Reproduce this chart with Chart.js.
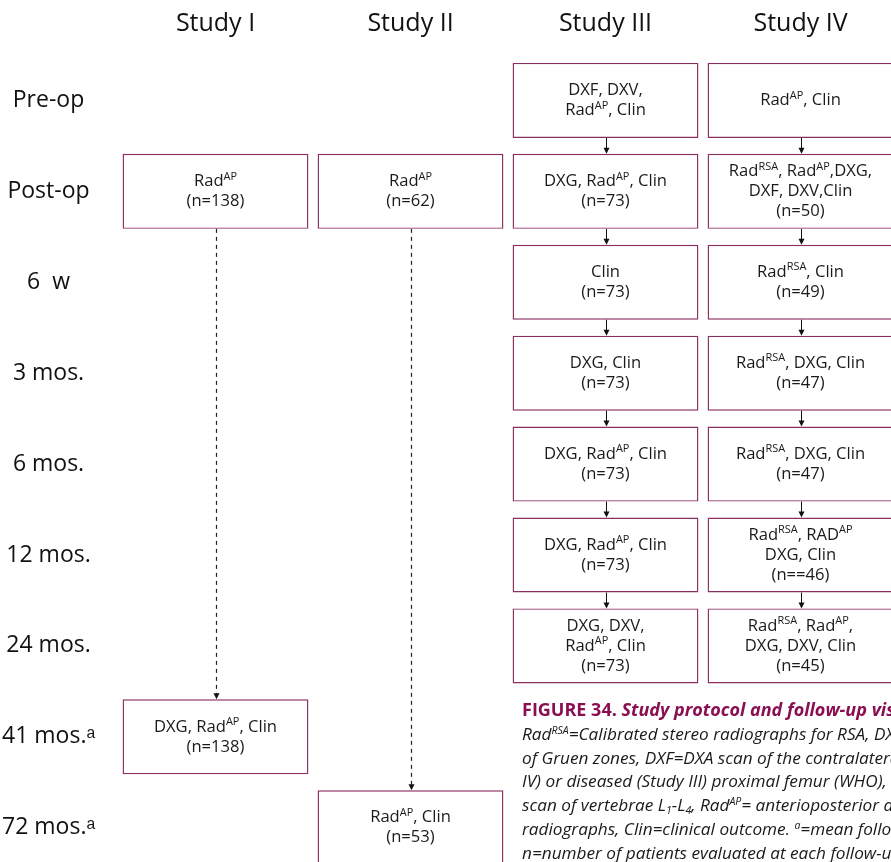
<!DOCTYPE html>
<html>
<head>
<meta charset="utf-8">
<script src="https://cdn.jsdelivr.net/npm/chart.js@4/dist/chart.umd.min.js"></script>
<style>
  html, body { margin: 0; padding: 0; background: #fff; overflow: hidden; }
  #wrap { position: relative; width: 891px; height: 862px; overflow: hidden; }
  #flow { position: absolute; left: 0; top: 0; }
  #caption {
    position: absolute; left: 522px; top: 698px; white-space: nowrap;
    font-family: "Open Sans", sans-serif; font-size: 17.2px; line-height: 23.8px; color: #1a1a1a;
    font-style: italic;
  }
  #caption .head { font-style: normal; font-weight: 700; color: #8a0f52; font-size: 18px; }
  #caption .head i { font-style: italic; }
  #caption sup { font-size: 10.5px; vertical-align: 6px; line-height: 0; }
  #caption sub { font-size: 10.5px; vertical-align: -3px; line-height: 0; }
</style>
</head>
<body>
<div id="wrap">
  <canvas id="flow" width="898" height="862"></canvas>
  <div id="caption">
    <div class="head">FIGURE 34. <i>Study protocol and follow-up visits.</i></div>
    <div>Rad<sup>RSA</sup>=Calibrated stereo radiographs for RSA, DXG=DXA scan</div>
    <div>of Gruen zones, DXF=DXA scan of the contralateral (Study</div>
    <div>IV) or diseased (Study III) proximal femur (WHO), DXV=DXA</div>
    <div>scan of vertebrae L<sub>1</sub>-L<sub>4</sub>, Rad<sup>AP</sup>= anterioposterior and lateral</div>
    <div>radiographs, Clin=clinical outcome. <sup>a</sup>=mean follow-up,</div>
    <div>n=number of patients evaluated at each follow-up.</div>
  </div>
</div>
<script>
// columns and rows of the protocol
const studies = ['Study I', 'Study II', 'Study III', 'Study IV'];
const timepoints = ['Pre-op', 'Post-op', '6  w', '3 mos.', '6 mos.', '12 mos.', '24 mos.', '41 mos.ᵃ', '72 mos.ᵃ'];

// what was done at each visit, per study ('|' = new line, ^ = superscript), null = no visit
const studyI = [null, 'Rad^AP|(n=138)', null, null, null, null, null, 'DXG, Rad^AP, Clin|(n=138)', null];
const studyII = [null, 'Rad^AP|(n=62)', null, null, null, null, null, null, 'Rad^AP, Clin|(n=53)'];
const studyIII = ['DXF, DXV,|Rad^AP, Clin', 'DXG, Rad^AP, Clin|(n=73)', 'Clin|(n=73)', 'DXG, Clin|(n=73)',
  'DXG, Rad^AP, Clin|(n=73)', 'DXG, Rad^AP, Clin|(n=73)', 'DXG, DXV,|Rad^AP, Clin|(n=73)', null, null];
const studyIV = ['Rad^AP, Clin', 'Rad^RSA, Rad^AP,DXG,|DXF, DXV,Clin|(n=50)', 'Rad^RSA, Clin|(n=49)',
  'Rad^RSA, DXG, Clin|(n=47)', 'Rad^RSA, DXG, Clin|(n=47)', 'Rad^RSA, RAD^AP|DXG, Clin|(n==46)',
  'Rad^RSA, Rad^AP,|DXG, DXV, Clin|(n=45)', null, null];

// dashed links where intermediate visits are skipped
const linkStyle = ['dashed', 'dashed', 'solid', 'solid'];

const BOX = '#8b2e60';
const FONT = '"Open Sans", sans-serif';
const half = 0.4125;

const makeBoxes = (study, visits) => visits
  .map((text, row) => text ? { x: study, y: [row - half, row + half], text: text } : null)
  .filter(d => d);

const datasets = [studyI, studyII, studyIII, studyIV].map((visits, i) => ({
  label: studies[i],
  data: makeBoxes(studies[i], visits),
  link: linkStyle[i],
  backgroundColor: '#ffffff',
  borderColor: BOX,
  borderWidth: 1.4,
  borderSkipped: false,
  grouped: false,
  categoryPercentage: 1,
  barPercentage: 0.953
}));

const drawRich = (ctx, line, cx, cy, size) => {
  const parts = line.split(/(\^\w+)/).filter(p => p !== '');
  const small = size * 0.66;
  const widths = parts.map(p => {
    ctx.font = (p[0] === '^' ? small : size) + 'px ' + FONT;
    return ctx.measureText(p[0] === '^' ? p.slice(1) : p).width;
  });
  let x = cx - widths.reduce((a, b) => a + b, 0) / 2;
  parts.forEach((p, k) => {
    const sup = p[0] === '^';
    ctx.font = (sup ? small : size) + 'px ' + FONT;
    ctx.fillText(sup ? p.slice(1) : p, x, sup ? cy - size * 0.3 : cy);
    x += widths[k];
  });
};

const arrowHead = (ctx, x, y) => {
  ctx.beginPath();
  ctx.moveTo(x - 3, y - 6);
  ctx.lineTo(x + 3, y - 6);
  ctx.lineTo(x, y);
  ctx.closePath();
  ctx.fill();
};

const flowPlugin = {
  id: 'flow',
  beforeDatasetsDraw(chart) {
    const ctx = chart.ctx;
    ctx.save();
    chart.data.datasets.forEach((ds, i) => {
      const els = chart.getDatasetMeta(i).data;
      for (let k = 0; k + 1 < els.length; k++) {
        const a = els[k].getProps(['x', 'y', 'base'], true);
        const b = els[k + 1].getProps(['x', 'y', 'base'], true);
        const y0 = Math.max(a.y, a.base);
        const y1 = Math.min(b.y, b.base);
        const x = Math.round(a.x) + 0.5;
        ctx.strokeStyle = ds.link === 'dashed' ? '#222' : '#111';
        ctx.fillStyle = '#111';
        ctx.lineWidth = ds.link === 'dashed' ? 1.2 : 1;
        ctx.setLineDash(ds.link === 'dashed' ? [4, 4] : []);
        ctx.beginPath();
        ctx.moveTo(x, y0);
        ctx.lineTo(x, y1 - 4);
        ctx.stroke();
        ctx.setLineDash([]);
        arrowHead(ctx, x, y1);
      }
    });
    ctx.restore();
  },
  afterDatasetsDraw(chart) {
    const ctx = chart.ctx;
    ctx.save();
    ctx.fillStyle = '#1a1a1a';
    ctx.textAlign = 'left';
    ctx.textBaseline = 'middle';
    chart.data.datasets.forEach((ds, i) => {
      chart.getDatasetMeta(i).data.forEach((el, k) => {
        const p = el.getProps(['x', 'y', 'base'], true);
        const lines = ds.data[k].text.split('|');
        const lh = 20;
        const cy = (p.y + p.base) / 2 - (lines.length - 1) * lh / 2;
        lines.forEach((ln, j) => drawRich(ctx, ln, p.x, cy + j * lh, 16.6));
      });
    });
    ctx.restore();
  }
};

const noPad = s => { s.paddingTop = 0; s.paddingBottom = 0; s.paddingLeft = 0; s.paddingRight = 0; };

new Chart(document.getElementById('flow'), {
  type: 'bar',
  data: { labels: studies, datasets: datasets },
  plugins: [flowPlugin],
  options: {
    responsive: false,
    animation: false,
    layout: { padding: 0 },
    plugins: { legend: { display: false }, tooltip: { enabled: false } },
    scales: {
      x: {
        position: 'top',
        grid: { display: false, drawTicks: false },
        border: { display: false },
        ticks: { color: '#111', font: { family: FONT, size: 25 }, padding: 16 },
        afterFit: s => { s.height = 55; noPad(s); }
      },
      y: {
        type: 'linear',
        reverse: true,
        min: -0.5,
        max: 8.377,
        grid: { display: false, drawTicks: false },
        border: { display: false },
        afterBuildTicks: s => { s.ticks = timepoints.map((t, i) => ({ value: i })); },
        ticks: {
          color: '#111',
          crossAlign: 'center',
          padding: 23,
          font: { family: FONT, size: 23 },
          callback: v => timepoints[v]
        },
        afterFit: s => { s.width = 118; noPad(s); }
      }
    }
  }
});
</script>
</body>
</html>
